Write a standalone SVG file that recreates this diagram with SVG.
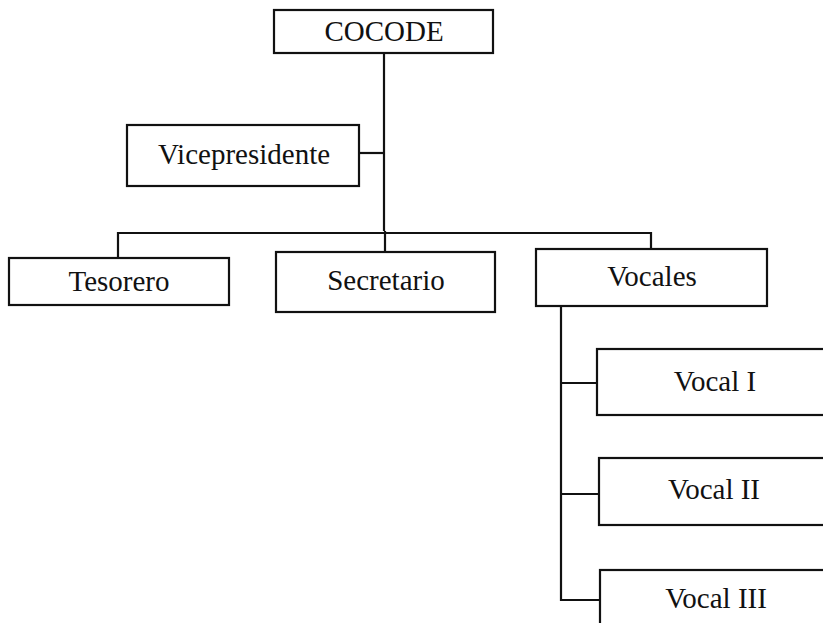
<svg xmlns="http://www.w3.org/2000/svg" width="823" height="623" viewBox="0 0 823 623">
<style>
.box{fill:#fff;stroke:#111;stroke-width:2.2}
.lbl{font-family:"Liberation Serif","Times New Roman",serif;font-size:29px;fill:#111;text-anchor:middle}
.ln{fill:none;stroke:#111;stroke-width:2.2}
</style>
<rect width="823" height="623" fill="#fff"/>
<g id="connectors">
<path class="ln" d="M384 53 V231"/>
<path class="ln" d="M359 153 H384"/>
<path class="ln" d="M118 258 V233 H651 V249"/>
<path class="ln" d="M385 231 V252"/>
<path class="ln" d="M561 306 V600 H599"/>
<path class="ln" d="M562 383 H597"/>
<path class="ln" d="M562 494 H599"/>
</g>
<g id="cocode"><rect class="box" x="274" y="10" width="219" height="43"/><text class="lbl" x="384" y="41">COCODE</text></g>
<g id="vicepresidente"><rect class="box" x="127" y="125" width="232" height="61"/><text class="lbl" x="244" y="164">Vicepresidente</text></g>
<g id="tesorero"><rect class="box" x="9" y="258" width="220" height="47"/><text class="lbl" x="119" y="291">Tesorero</text></g>
<g id="secretario"><rect class="box" x="276" y="252" width="219" height="60"/><text class="lbl" x="386" y="290">Secretario</text></g>
<g id="vocales"><rect class="box" x="536" y="249" width="231" height="57"/><text class="lbl" x="652" y="286">Vocales</text></g>
<g id="vocal1"><rect class="box" x="597" y="349" width="240" height="66"/><text class="lbl" x="715" y="391">Vocal I</text></g>
<g id="vocal2"><rect class="box" x="599" y="458" width="240" height="67"/><text class="lbl" x="714" y="499">Vocal II</text></g>
<g id="vocal3"><rect class="box" x="600" y="570" width="240" height="70"/><text class="lbl" x="716" y="608">Vocal III</text></g>
</svg>
